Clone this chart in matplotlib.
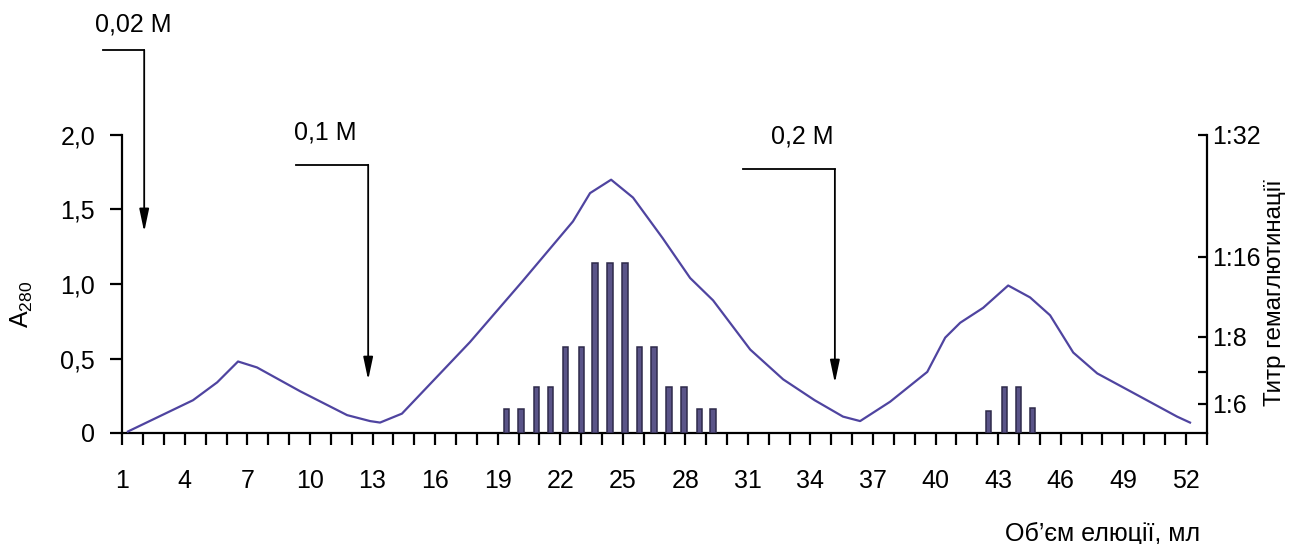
import matplotlib
matplotlib.use('Agg')
import matplotlib.pyplot as plt

plt.rcParams['font.family'] = ['Liberation Sans', 'DejaVu Sans']
plt.rcParams['mathtext.fontset'] = 'custom'
plt.rcParams['mathtext.rm'] = 'Liberation Sans'
plt.rcParams['mathtext.it'] = 'Liberation Sans:italic'

# крива поглинання A280 (об'єм елюції, мл)
volume = [1.27, 4.39, 5.55, 6.55, 7.46, 9.53, 11.78, 12.88, 13.36, 14.41,
          17.67, 20.2, 22.61, 23.43, 24.44, 25.49, 26.9, 28.23, 29.33, 31.11, 32.69,
          34.2, 35.56, 36.38, 37.82, 39.60, 40.46, 41.18, 42.28, 43.48, 44.53,
          45.49, 46.60, 47.75, 49.47, 51.58, 52.20]
a280 = [0.01, 0.22, 0.34, 0.48, 0.44, 0.28, 0.12, 0.08, 0.07, 0.13,
        0.61, 1.02, 1.42, 1.61, 1.70, 1.58, 1.31, 1.04, 0.89, 0.56, 0.36,
        0.22, 0.11, 0.08, 0.21, 0.41, 0.64, 0.74, 0.84, 0.99, 0.91,
        0.79, 0.54, 0.40, 0.27, 0.11, 0.07]

# титр гемаглютинації (висота стовпчиків у шкалі правої осі)
titr_x = [19.44, 20.12, 20.88, 21.55, 22.27, 23.03, 23.67, 24.39, 25.11,
          25.80, 26.50, 27.22, 27.94, 28.66, 29.33,
          42.52, 43.29, 43.96, 44.63]
titr_h = [0.16, 0.16, 0.31, 0.31, 0.58, 0.58, 1.14, 1.14, 1.14,
          0.58, 0.58, 0.31, 0.31, 0.16, 0.16,
          0.15, 0.31, 0.31, 0.17]

# шкала правої осі
titr_ticks = [0.195, 0.411, 0.646, 1.183, 2.0]
titr_labels = ['1:6', '', '1:8', '1:16', '1:32']

# зміна буфера (стрілки)
buffers = ['0,02 M', '0,1 M', '0,2 M']
arrow_x = [2.05, 12.79, 35.17]
arrow_left = [0.08, 9.34, 30.76]
arrow_top = [2.57, 1.80, 1.77]
arrow_tip = [1.35, 0.356, 0.336]
label_x = [1.51, 10.72, 33.6]
label_y = [2.74, 2.02, 1.99]

fs = 18
fig = plt.figure(figsize=(13, 5.44), dpi=100)
ax = fig.add_axes([122.3 / 1300, 111 / 544, (1206.7 - 122.3) / 1300, 298 / 544])
ax2 = ax.twinx()

ax.plot(volume, a280, color='#4f44a0', lw=1.6, zorder=3)
ax2.bar(titr_x, titr_h, width=0.25, color='#5a5488', edgecolor='#2e2a4a', linewidth=1.1)

ax.set_xlim(1, 53)
ax.set_ylim(0, 2.0)
ax2.set_ylim(0, 2.0)

xt = list(range(1, 54))
ax.set_xticks(xt)
ax.set_xticklabels([str(v) if (v - 1) % 3 == 0 and v <= 52 else '' for v in xt])
ax.set_yticks([0, 0.5, 1.0, 1.5, 2.0])
ax.set_yticklabels(['0', '0,5', '1,0', '1,5', '2,0'])
ax2.set_yticks(titr_ticks)
ax2.set_yticklabels(titr_labels)

ax.tick_params(axis='x', direction='out', length=8.5, width=1.6, pad=17.5, labelsize=fs)
ax.tick_params(axis='y', direction='out', length=8.5, width=1.6, pad=11, labelsize=fs)
ax2.tick_params(axis='y', direction='in', length=6.5, width=1.6, pad=4, labelsize=fs)

for a in (ax, ax2):
    a.spines['top'].set_visible(False)
    for s in a.spines.values():
        s.set_linewidth(1.6)
ax.spines['right'].set_visible(False)
ax2.spines['left'].set_visible(False)
ax2.spines['bottom'].set_visible(False)

for i in range(len(buffers)):
    ax.plot([arrow_left[i], arrow_x[i]], [arrow_top[i], arrow_top[i]],
            color='k', lw=1.3, clip_on=False)
    ax.annotate('', xy=(arrow_x[i], arrow_tip[i]), xytext=(arrow_x[i], arrow_top[i]),
                arrowprops=dict(arrowstyle='-|>,head_length=1.37,head_width=0.29',
                                color='k', lw=1.3, shrinkA=0, shrinkB=0),
                annotation_clip=False)
    ax.text(label_x[i], label_y[i], buffers[i], ha='center', va='center',
            fontsize=fs, clip_on=False)

fig.text(22 / 1300, 1 - 304 / 544, r'A$_{280}$', rotation=90, ha='center', va='center', fontsize=fs)
fig.text(1275 / 1300, 1 - 293 / 544, 'Титр гемаглютинації', rotation=90,
         ha='center', va='center', fontsize=17.5)
fig.text(1200 / 1300, 3 / 544, 'Об’єм елюції, мл', ha='right', va='baseline', fontsize=fs)

fig.savefig('out.png', dpi=100)
